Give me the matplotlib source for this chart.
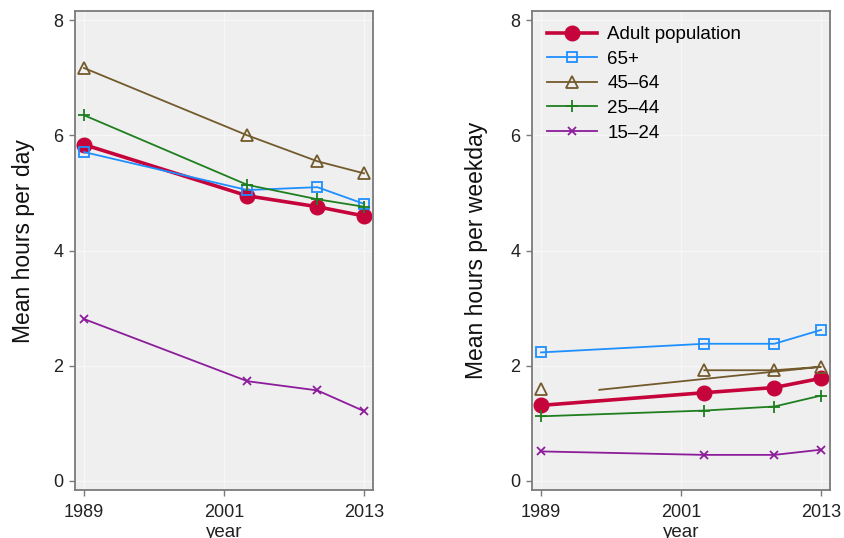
import matplotlib
matplotlib.use("Agg")
import matplotlib.pyplot as plt

plt.rcParams['font.family'] = ['Liberation Sans', 'DejaVu Sans']

years = [1989, 2003, 2009, 2013]
series_names = ["Adult population", "65+", "45\u201364", "25\u201344", "15\u201324"]

# Mean hours per day
day_adult = [5.84, 4.95, 4.76, 4.60]
day_65 = [5.71, 5.05, 5.10, 4.81]
day_45_64 = [7.17, 6.00, 5.55, 5.34]
day_25_44 = [6.35, 5.14, 4.89, 4.76]
day_15_24 = [2.81, 1.73, 1.57, 1.21]

# Mean hours per weekday
wk_adult = [1.31, 1.53, 1.62, 1.78]
wk_65 = [2.23, 2.38, 2.38, 2.62]
wk_45_64 = [1.60, 1.92, 1.92, 1.98]
wk_25_44 = [1.12, 1.22, 1.29, 1.48]
wk_15_24 = [0.51, 0.45, 0.45, 0.54]
# connecting path of the 45-64 weekday series
wk_45_64_path_years = [1994, 2013, 2009, 2003]
wk_45_64_path_vals = [1.58, 1.98, 1.92, 1.92]

x_ticks = [1989, 2001, 2013]
y_ticks = [0, 2, 4, 6, 8]

colors = ["#c6043c", "#1e8fff", "#735a2c", "#1f7f1f", "#8c1c9a"]
styles = [
    dict(marker="o", ms=10.5, lw=2.6, mfc=colors[0], mec=colors[0]),
    dict(marker="s", ms=6.5, lw=1.3, mfc="none", mec=colors[1], mew=1.3),
    dict(marker="^", ms=8, lw=1.3, mfc="none", mec=colors[2], mew=1.3),
    dict(marker="+", ms=9, lw=1.3, mec=colors[3], mew=1.3),
    dict(marker="x", ms=6, lw=1.3, mec=colors[4], mew=1.3),
]

fig = plt.figure(figsize=(8.45, 5.38), dpi=100)
ax1 = fig.add_axes([75 / 845, 48 / 538, 298 / 845, 479 / 538])
ax2 = fig.add_axes([532 / 845, 48 / 538, 298 / 845, 479 / 538])


def style_axes(ax, ylabel, lab_x, lab_y):
    ax.set_facecolor("#efefef")
    ax.set_xlim(1988.23, 2013.77)
    ax.set_ylim(-0.16, 8.16)
    ax.set_xticks(x_ticks)
    ax.set_yticks(y_ticks)
    ax.grid(True, color="#f7f7f7", lw=1.0)
    ax.set_axisbelow(True)
    for sp in ax.spines.values():
        sp.set_color("#7a7a7a")
        sp.set_linewidth(1.3)
    ax.tick_params(direction="out", length=4, width=1.0, color="#7a7a7a",
                   labelsize=13, labelcolor="#222222")
    ax.tick_params(axis="x", pad=6)
    ax.tick_params(axis="y", pad=4.5)
    ax.set_ylabel(ylabel, fontsize=16.5, color="#111111")
    ax.yaxis.set_label_coords(lab_x, lab_y)
    ax.set_xlabel("year", fontsize=13.5, color="#222222", labelpad=2)


def draw(ax, data):
    handles = []
    for vals, st, c, name in zip(data, styles, colors, series_names):
        h, = ax.plot(years, vals, color=c, label=name, **st)
        handles.append(h)
    return handles


draw(ax1, [day_adult, day_65, day_45_64, day_25_44, day_15_24])
style_axes(ax1, "Mean hours per day", -0.135, 0.52)

# weekday panel: 45-64 markers and its connecting path drawn separately
h_adult, = ax2.plot(years, wk_adult, color=colors[0], label=series_names[0], **styles[0])
h_65, = ax2.plot(years, wk_65, color=colors[1], label=series_names[1], **styles[1])
ax2.plot(years, wk_45_64, color=colors[2], ls="none", **styles[2])
ax2.plot(wk_45_64_path_years, wk_45_64_path_vals, color=colors[2], lw=1.3)
h_45, = ax2.plot([], [], color=colors[2], label=series_names[2], **styles[2])
h_25, = ax2.plot(years, wk_25_44, color=colors[3], label=series_names[3], **styles[3])
h_15, = ax2.plot(years, wk_15_24, color=colors[4], label=series_names[4], **styles[4])
style_axes(ax2, "Mean hours per weekday", -0.148, 0.50)

leg = ax2.legend(handles=[h_adult, h_65, h_45, h_25, h_15], loc="upper left",
                 bbox_to_anchor=(0.0, 1.0), frameon=False, fontsize=13.5,
                 handlelength=2.67, handletextpad=0.55, labelspacing=0.4,
                 borderaxespad=0.5, borderpad=0.3, markerscale=1.0)

fig.savefig("out.png", dpi=100, facecolor="white")
